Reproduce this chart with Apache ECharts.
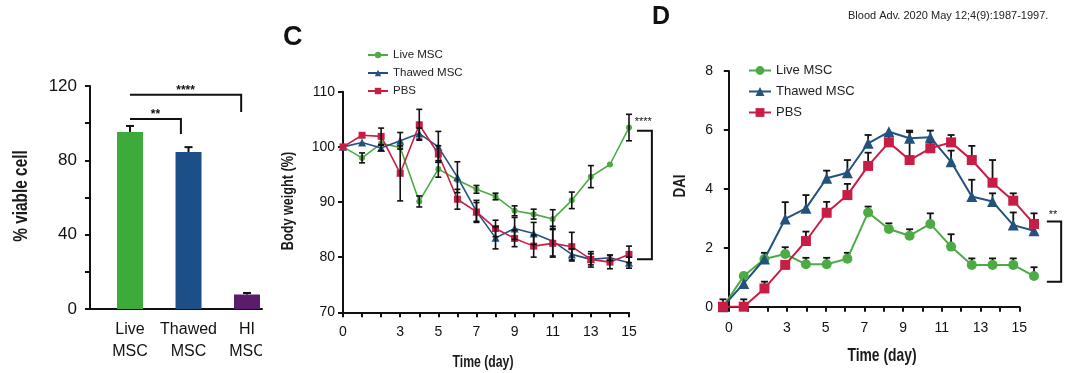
<!DOCTYPE html>
<html><head><meta charset="utf-8">
<script src="https://cdn.jsdelivr.net/npm/echarts@6/dist/echarts.min.js"></script>
<style>html,body{margin:0;padding:0;background:#fff}#c{width:1080px;height:373px}</style>
</head><body><div id="c"></div>
<script>
// ---------- Panel A: viability ----------
const viabilityCategories = ['Live\nMSC', 'Thawed\nMSC', 'HI\nMSC'];
const viabilityValues = [95.3, 84.5, 7.8];
const viabilityErrors = [3.2, 2.6, 0.8];
const viabilityColors = ['#3dab3c', '#1c4f88', '#5c1c6c'];
// [fromCat, toCat, yLine, yDrop, label]
const viabilityBrackets = [[1, 1.87, 102.3, 94.2, '**'], [1, 2.9, 115.3, 106, '****']];
const viabilityTicks = [0, 40, 80, 120];

// ---------- shared ----------
const seriesNames = ['Live MSC', 'Thawed MSC', 'PBS'];
const seriesColors = ['#4dab45', '#23527f', '#c81e45'];
const days = [0,1,2,3,4,5,6,7,8,9,10,11,12,13,14,15];
const labelledDays = [0,3,5,7,9,11,13,15];

// ---------- Panel C: body weight ----------
const weightLive   = [100, 98.0, 100.6, 99.9, 90.1, 96.0, 94.0, 92.3, 91.0, 88.4, 87.8, 86.9, 90.3, 94.6, 96.8, 103.5];
const weightLiveErr= [0, 0.9, 0, 0, 1.0, 1.5, 0, 0.7, 0.6, 0.9, 0.9, 1.7, 1.5, 2.0, 0, 2.4];
const weightThawed = [100, 100.8, 99.8, 101.1, 102.4, 100.0, 94.5, 88.3, 83.5, 85.2, 84.3, 82.9, 80.5, 79.6, 79.9, 79.0];
const weightThawedErr=[0, 0, 0.5, 1.5, 1.0, 2.8, 2.8, 2.0, 2.0, 2.0, 2.0, 2.7, 1.0, 1.0, 0.5, 1.0];
const weightPBS    = [100, 102.1, 101.9, 95.2, 104.0, 98.7, 90.5, 88.2, 85.2, 83.4, 82.0, 82.5, 81.9, 79.6, 79.1, 80.5];
const weightPBSErr = [0, 0, 1.5, 5.0, 2.8, 1.5, 1.8, 1.7, 1.5, 1.5, 2.0, 2.5, 2.6, 1.4, 1.2, 1.5];
// [xFrom, xTo, yTop, yBottom, label, labelX, labelY]
const weightBracket = [15.42, 16.2, 102.9, 79.6, '****', 15.3, 104.6];

// ---------- Panel D: DAI ----------
const daiLive   = [0, 1.04, 1.62, 1.79, 1.44, 1.44, 1.63, 3.2, 2.64, 2.41, 2.81, 2.04, 1.42, 1.42, 1.42, 1.04];
const daiLiveErr= [0.25, 0, 0, 0.23, 0.22, 0.22, 0.2, 0.2, 0.19, 0.22, 0.36, 0.42, 0.22, 0.22, 0.22, 0.3];
const daiThawed = [0, 0.79, 1.62, 2.98, 3.34, 4.36, 4.55, 5.55, 5.94, 5.72, 5.75, 4.92, 3.74, 3.57, 2.77, 2.58];
const daiThawedErr=[0, 0, 0.21, 0.57, 0.45, 0.26, 0.43, 0.28, 0, 0.26, 0.23, 0.38, 0.57, 0.28, 0.43, 0.2];
const daiPBS    = [0, 0, 0.62, 1.42, 2.23, 3.19, 3.79, 4.78, 5.58, 4.98, 5.38, 5.58, 4.98, 4.21, 3.6, 2.81];
const daiPBSErr = [0, 0.25, 0.23, 0, 0.32, 0.37, 0.38, 0.45, 0.25, 0.95, 0.2, 0.25, 0.48, 0.77, 0.25, 0.36];
const daiBracket = [15.62, 16.31, 2.89, 0.85, '**', 15.92, 3.1];

const SANS = '"Liberation Sans", Arial, sans-serif';
const INK = '#111';

function errRender(twoSided, cap, lw) {
  return function (params, api) {
    const x = api.value(0), y = api.value(1), e = api.value(2);
    if (!e) return null;
    const t = api.coord([x, y + e]);
    const b = api.coord([x, twoSided ? y - e : y]);
    const st = { stroke: INK, lineWidth: lw };
    const ch = [
      { type: 'line', shape: { x1: t[0], y1: t[1], x2: b[0], y2: b[1] }, style: st },
      { type: 'line', shape: { x1: t[0] - cap, y1: t[1], x2: t[0] + cap, y2: t[1] }, style: st }
    ];
    if (twoSided) ch.push({ type: 'line', shape: { x1: b[0] - cap, y1: b[1], x2: b[0] + cap, y2: b[1] }, style: st });
    return { type: 'group', children: ch };
  };
}
function hBracketRender(params, api) {
  const p1 = api.coord([api.value(0), api.value(2)]);
  const p2 = api.coord([api.value(1), api.value(2)]);
  const p3 = api.coord([api.value(1), api.value(3)]);
  return { type: 'group', children: [
    { type: 'polyline', shape: { points: [p1, p2, p3] }, style: { stroke: INK, lineWidth: 2, fill: null } },
    { type: 'text', x: (p1[0] + p2[0]) / 2, y: p1[1] + 2, style: { text: api.value(4), fontSize: 12, fontWeight: 'bold', fill: INK, align: 'center', verticalAlign: 'bottom', fontFamily: SANS } }
  ]};
}
function vBracketRender(align) {
  return function (params, api) {
    const a = api.coord([api.value(0), api.value(2)]);
    const b = api.coord([api.value(1), api.value(2)]);
    const c = api.coord([api.value(1), api.value(3)]);
    const d = api.coord([api.value(0), api.value(3)]);
    const l = api.coord([api.value(5), api.value(6)]);
    return { type: 'group', children: [
      { type: 'polyline', shape: { points: [a, b, c, d] }, style: { stroke: INK, lineWidth: 2, fill: null } },
      { type: 'text', x: l[0], y: l[1], style: { text: api.value(4), fontSize: 11, fill: INK, align: align, verticalAlign: 'middle', fontFamily: SANS } }
    ]};
  };
}

const symbols = ['circle', 'triangle', 'rect'];
const cSizes = [6, 8, 7];
const dSizes = [10, 11, 10];
const weightSets = [[weightLive, weightLiveErr], [weightThawed, weightThawedErr], [weightPBS, weightPBSErr]];
const daiSets = [[daiLive, daiLiveErr], [daiThawed, daiThawedErr], [daiPBS, daiPBSErr]];

const series = [];
series.push({
  type: 'bar', xAxisIndex: 0, yAxisIndex: 0, barWidth: 26,
  data: viabilityValues.map((v, i) => ({ value: [i + 1, v], itemStyle: { color: viabilityColors[i] } }))
});
series.push({
  type: 'custom', xAxisIndex: 0, yAxisIndex: 0, z: 5, renderItem: errRender(false, 4, 2),
  data: viabilityValues.map((v, i) => [i + 1, v, viabilityErrors[i]])
});
series.push({ type: 'custom', xAxisIndex: 0, yAxisIndex: 0, renderItem: hBracketRender, data: viabilityBrackets });

weightSets.forEach((s, k) => {
  series.push({
    type: 'line', name: seriesNames[k], xAxisIndex: 1, yAxisIndex: 1, z: 3,
    data: days.map((d, i) => [d, s[0][i]]),
    symbol: symbols[k], symbolSize: cSizes[k], showAllSymbol: true,
    lineStyle: { color: seriesColors[k], width: 1.6 }, itemStyle: { color: seriesColors[k] }
  });
});
weightSets.forEach((s) => {
  series.push({
    type: 'custom', xAxisIndex: 1, yAxisIndex: 1, z: 4, renderItem: errRender(true, 3, 1.6),
    data: days.map((d, i) => [d, s[0][i], s[1][i]])
  });
});
series.push({ type: 'custom', xAxisIndex: 1, yAxisIndex: 1, renderItem: vBracketRender('left'), data: [weightBracket] });

daiSets.forEach((s) => {
  series.push({
    type: 'custom', xAxisIndex: 3, yAxisIndex: 3, z: 1, renderItem: errRender(false, 3.5, 1.8),
    data: days.map((d, i) => [d, s[0][i], s[1][i]])
  });
});
daiSets.forEach((s, k) => {
  series.push({
    type: 'line', name: seriesNames[k], xAxisIndex: 3, yAxisIndex: 3, z: 3,
    data: days.map((d, i) => [d, s[0][i]]),
    symbol: symbols[k], symbolSize: dSizes[k], showAllSymbol: true,
    lineStyle: { color: seriesColors[k], width: 2 }, itemStyle: { color: seriesColors[k] }
  });
});
series.push({ type: 'custom', xAxisIndex: 3, yAxisIndex: 3, renderItem: vBracketRender('center'), data: [daiBracket] });

const axisLine = { show: true, lineStyle: { color: INK, width: 2 } };
const tickOut = { show: true, inside: false, length: 5, lineStyle: { color: INK, width: 2 } };

// condensed axis titles (no narrow font installed): horizontally scaled real text
function title(text, x, y, size, rot, sx) {
  return { type: 'text', x: x, y: y, rotation: rot, scaleX: sx, z: 50,
    style: { text: text, fontSize: size, fontWeight: 'bold', fill: '#1a1a1a', fontFamily: SANS, align: 'center', verticalAlign: 'middle' } };
}

const option = {
  animation: false,
  backgroundColor: '#fff',
  textStyle: { fontFamily: SANS },
  grid: [
    { left: 90, top: 86, width: 172, height: 223 },
    { left: 343, top: 91.7, width: 286, height: 220.6 },
    { left: 723, top: 71.1, width: 296.3, height: 235.6 },
    { left: 723, top: 71.1, width: 311, height: 235.6 }
  ],
  xAxis: [
    { type: 'value', gridIndex: 0, min: 0.316, max: 3.256, axisLine, axisTick: { show: false }, splitLine: { show: false },
      axisLabel: { margin: 10, fontSize: 16, lineHeight: 22, color: INK, fontFamily: SANS,
        formatter: v => (Number.isInteger(v) && v >= 1 && v <= 3) ? viabilityCategories[v - 1] : '' } },
    { type: 'value', gridIndex: 1, min: 0, max: 15, interval: 1, axisLine, axisTick: tickOut, splitLine: { show: false },
      axisLabel: { margin: 13, fontSize: 14, color: INK, formatter: v => labelledDays.includes(v) ? String(v) : '' } },
    { type: 'value', gridIndex: 2, min: -0.3, max: 15, minInterval: 1, maxInterval: 1, axisLine, axisTick: tickOut, splitLine: { show: false },
      axisLabel: { margin: 14, fontSize: 14, color: INK, formatter: v => labelledDays.includes(v) ? String(v) : '' } },
    { type: 'value', gridIndex: 3, min: 0, max: 15, show: false }
  ],
  yAxis: [
    { type: 'value', gridIndex: 0, min: 0, max: 120, interval: 20, axisLine, axisTick: tickOut, splitLine: { show: false },
      axisLabel: { margin: 13, fontSize: 17, color: INK, formatter: v => viabilityTicks.includes(v) ? String(v) : '' } },
    { type: 'value', gridIndex: 1, min: 70, max: 110, interval: 10, axisLine, axisTick: tickOut, splitLine: { show: false },
      axisLabel: { margin: 8, fontSize: 14, color: INK } },
    { type: 'value', gridIndex: 2, min: 0, max: 8, interval: 2, axisLine, axisTick: tickOut, splitLine: { show: false },
      axisLabel: { margin: 10, fontSize: 14, color: INK } },
    { type: 'value', gridIndex: 3, min: 0, max: 8, show: false }
  ],
  legend: [
    { orient: 'vertical', left: 362, top: 44, itemWidth: 20, itemHeight: 8, itemGap: 6, itemTextGap: 5, selectedMode: false,
      data: seriesNames, textStyle: { fontSize: 11.5, color: '#222', fontFamily: SANS } },
    { orient: 'vertical', left: 743, top: 59, itemWidth: 22, itemHeight: 11, itemGap: 8, itemTextGap: 7, selectedMode: false,
      data: seriesNames, textStyle: { fontSize: 13, color: '#222', fontFamily: SANS } }
  ],
  graphic: [
    { type: 'rect', left: 262, top: 312, shape: { width: 18, height: 50 }, style: { fill: '#fff' }, z: 100 },
    { type: 'text', left: 283, top: 24, style: { text: 'C', fontSize: 27, fontWeight: 'bold', fill: INK, fontFamily: SANS } },
    { type: 'text', left: 652, top: 5, style: { text: 'D', fontSize: 25, fontWeight: 'bold', fill: INK, fontFamily: SANS } },
    { type: 'text', left: 848, top: 10, style: { text: 'Blood Adv. 2020 May 12;4(9):1987-1997.', fontSize: 11, fill: '#222', fontFamily: SANS } },
    title('% viable cell', 21, 196, 20, Math.PI / 2, 0.77),
    title('Body weight (%)', 289, 201, 16, Math.PI / 2, 0.79),
    title('DAI', 681, 186, 16, Math.PI / 2, 0.84),
    title('Time (day)', 483, 362, 17, 0, 0.72),
    title('Time (day)', 882, 356, 19, 0, 0.73)
  ],
  series
};
const chart = echarts.init(document.getElementById('c'), null, { renderer: 'canvas' });
chart.setOption(option);
</script></body></html>
